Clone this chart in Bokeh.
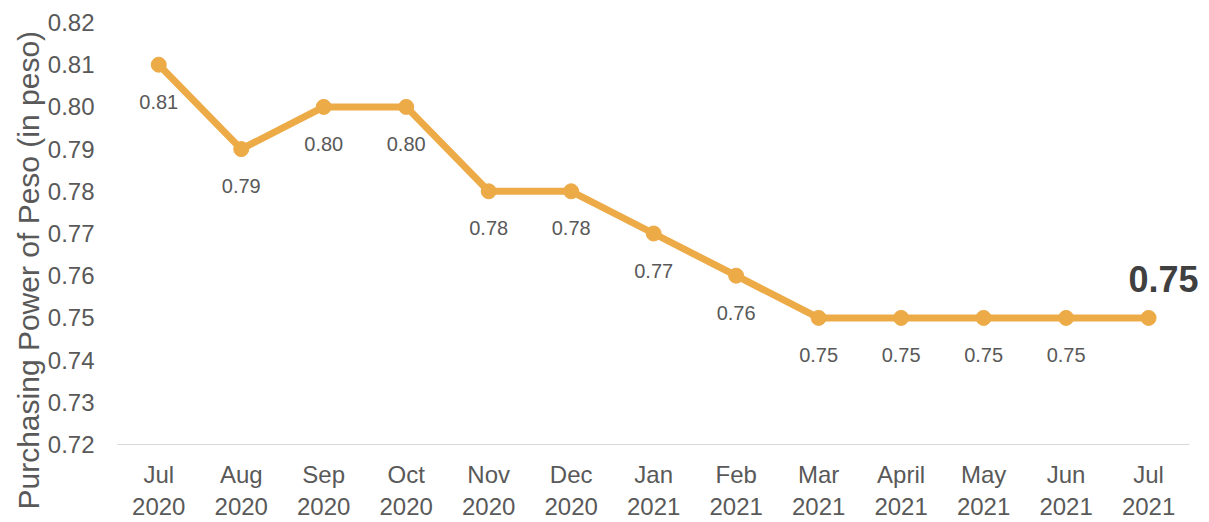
from bokeh.plotting import figure
from bokeh.models import ColumnDataSource, FixedTicker, PrintfTickFormatter, Range1d, Title
from bokeh.core.properties import value
from bokeh.embed import file_html
from bokeh.resources import INLINE

months = ["Jul\n2020", "Aug\n2020", "Sep\n2020", "Oct\n2020", "Nov\n2020", "Dec\n2020",
          "Jan\n2021", "Feb\n2021", "Mar\n2021", "April\n2021", "May\n2021", "Jun\n2021", "Jul\n2021"]
power = [0.81, 0.79, 0.80, 0.80, 0.78, 0.78, 0.77, 0.76, 0.75, 0.75, 0.75, 0.75, 0.75]
y_ticks = [0.72, 0.73, 0.74, 0.75, 0.76, 0.77, 0.78, 0.79, 0.80, 0.81, 0.82]

FONT = "Liberation Sans"
GRAY = "#595959"
ORANGE = "#EDAB48"

idx = list(range(len(months)))

p = figure(x_range=Range1d(-0.5, len(months) - 0.31), y_range=Range1d(0.72, 0.82),
           width=1209, height=522, output_backend="svg", toolbar_location=None,
           min_border_left=117, min_border_right=4, min_border_top=22, min_border_bottom=70)
p.outline_line_color = None
p.xgrid.grid_line_color = None
p.ygrid.grid_line_color = None
p.background_fill_color = "white"
p.border_fill_color = "white"

src = ColumnDataSource(dict(x=idx[:-1], y=power[:-1], label=["%.2f" % v for v in power[:-1]]))
last = ColumnDataSource(dict(x=idx[-1:], y=power[-1:], label=["%.2f" % v for v in power[-1:]]))

p.line(idx, power, line_color=ORANGE, line_width=7)
p.scatter(idx, power, size=15, fill_color=ORANGE, line_color=ORANGE)

p.text(x="x", y="y", text="label", source=src, text_align="center", text_baseline="middle",
       y_offset=37, text_font=value(FONT), text_font_size="20px", text_color=GRAY)
p.text(x="x", y="y", text="label", source=last, text_align="center", text_baseline="middle",
       x_offset=15, y_offset=-39, text_font=value(FONT), text_font_size="36px",
       text_font_style="bold", text_color="#404040")

# y axis
p.yaxis.ticker = FixedTicker(ticks=y_ticks)
p.yaxis.formatter = PrintfTickFormatter(format="%.2f")
p.yaxis.axis_line_color = None
p.yaxis.major_tick_line_color = None
p.yaxis.minor_tick_line_color = None
p.yaxis.major_label_text_font = FONT
p.yaxis.major_label_text_font_size = "24px"
p.yaxis.major_label_text_color = GRAY
p.yaxis.major_label_standoff = 17

ytitle = Title(text="Purchasing Power of Peso (in peso)", align="left", offset=-65,
               text_font=FONT, text_font_size="30px", text_font_style="normal",
               text_color=GRAY, standoff=0)
p.add_layout(ytitle, "left")

# x axis
p.xaxis.ticker = FixedTicker(ticks=idx)
p.xaxis.major_label_overrides = {i: m for i, m in zip(idx, months)}
p.xaxis.bounds = (-0.5, len(months) - 0.5)
p.xaxis.axis_line_color = "#D9D9D9"
p.xaxis.axis_line_width = 1
p.xaxis.major_tick_line_color = None
p.xaxis.minor_tick_line_color = None
p.xaxis.major_label_text_font = FONT
p.xaxis.major_label_text_font_size = "24px"
p.xaxis.major_label_text_color = GRAY
p.xaxis.major_label_standoff = 10
p.xaxis.major_label_orientation = "horizontal"

open("out.html", "w").write(file_html(p, INLINE))
